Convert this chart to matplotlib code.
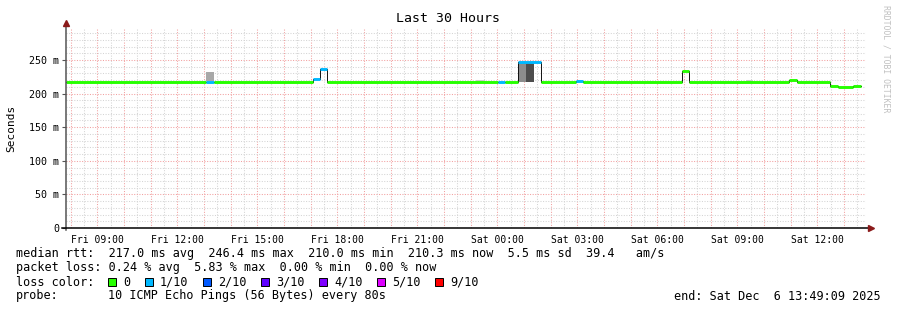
import matplotlib
matplotlib.use("Agg")
import matplotlib.pyplot as plt
from matplotlib.patches import Rectangle

# ---- data (times as "Day HH:MM", rtt in ms) ----
graph_start = "Fri 07:49:09"
graph_end = "Sat 13:49:09"

seg_time = ["Fri 07:49", "Fri 13:04", "Fri 13:22", "Fri 17:05", "Fri 17:20", "Fri 17:36",
            "Sat 00:01", "Sat 00:16", "Sat 00:46", "Sat 01:37", "Sat 02:56", "Sat 03:12",
            "Sat 06:55", "Sat 07:10", "Sat 10:55", "Sat 11:13", "Sat 12:29", "Sat 12:47",
            "Sat 13:19"]
seg_rtt = [217, 217, 217, 221, 237, 217, 217, 217, 246.4, 217, 219, 217,
           233, 217, 220, 217, 211, 210, 210.8]
seg_loss = [0, 1, 0, 1, 1, 0, 1, 0, 1, 0, 1, 0, 0, 0, 0, 0, 0, 0, 0]
data_end = "Sat 13:37"

smoke_start = ["Fri 13:04", "Fri 23:11", "Sat 00:46", "Sat 01:04", "Sat 09:20"]
smoke_end = ["Fri 13:22", "Fri 23:31", "Sat 01:04", "Sat 01:22", "Sat 09:36"]
smoke_lo = [218, 217, 217, 217, 217]
smoke_hi = [232, 219.5, 247, 247, 219.5]
smoke_shade = ["#a8a8a8", "#cccccc", "#8c8c8c", "#4d4d4d", "#cccccc"]

loss_labels = ["0", "1/10", "2/10", "3/10", "4/10", "5/10", "9/10"]
loss_colors = ["#26ff00", "#00b8ff", "#0059ff", "#5e00ff", "#7e00ff", "#dd00ff", "#ff0000"]

xtick_labels = ["Fri 09:00", "Fri 12:00", "Fri 15:00", "Fri 18:00", "Fri 21:00",
                "Sat 00:00", "Sat 03:00", "Sat 06:00", "Sat 09:00", "Sat 12:00"]
yticks = [0, 50, 100, 150, 200, 250]

stats_rtt = "median rtt:  217.0 ms avg  246.4 ms max  210.0 ms min  210.3 ms now  5.5 ms sd  39.4   am/s"
stats_loss = "packet loss: 0.24 % avg  5.83 % max  0.00 % min  0.00 % now"
probe_txt = "10 ICMP Echo Pings (56 Bytes) every 80s"
end_txt = "end: Sat Dec  6 13:49:09 2025"


def hrs(s):
    day, hm = s.split()
    parts = [int(p) for p in hm.split(":")]
    while len(parts) < 3:
        parts.append(0)
    return (24 if day == "Sat" else 0) + parts[0] + parts[1] / 60 + parts[2] / 3600


plt.rcParams["font.family"] = ["DejaVu Sans Mono"]
W, H = 897, 310
fig = plt.figure(figsize=(W / 100, H / 100), dpi=100)
ax = fig.add_axes([66 / W, 82 / H, 800 / W, 200 / H])

x0, x1 = hrs(graph_start), hrs(graph_end)
ax.set_xlim(x0, x1)
ax.set_ylim(0, 297.6)

# grid
dots = (0, (1, 1.5))
h = 8.0
while h < x1:
    major = abs(h - round(h)) < 1e-6
    ax.axvline(h, color="#f2a0a0" if major else "#d4d4d4", lw=0.75, ls=dots, zorder=0)
    h += 0.5
for v in range(10, 300, 10):
    ax.axhline(v, color="#f2a0a0" if v % 50 == 0 else "#d4d4d4", lw=0.75, ls=dots, zorder=0)

# smoke
for s, e, lo, hi, c in zip(smoke_start, smoke_end, smoke_lo, smoke_hi, smoke_shade):
    ax.bar(hrs(s), hi - lo, width=hrs(e) - hrs(s), bottom=lo, align="edge",
           color=c, lw=0, zorder=2)

# median: thin black step line + loss coloured segments
t = [hrs(s) for s in seg_time] + [hrs(data_end)]
ax.step(t, seg_rtt + [seg_rtt[-1]], where="post", color="#111111", lw=0.7, zorder=3)
ax.hlines(seg_rtt, t[:-1], t[1:], colors=[loss_colors[l] for l in seg_loss],
          lw=2.1, zorder=4)

# axes look
for sp in ["top", "right", "left", "bottom"]:
    ax.spines[sp].set_visible(False)
ax.plot([0, 0], [-0.01, 1.02], transform=ax.transAxes, color="#555555", lw=1.1,
        clip_on=False, zorder=5)
ax.plot([-0.005, 1.005], [0, 0], transform=ax.transAxes, color="black", lw=1.1,
        clip_on=False, zorder=5)
ax.plot([0], [1.023], transform=ax.transAxes, marker="^", ms=5, color="#8b1a1a",
        clip_on=False, zorder=6)
ax.plot([1.006], [0], transform=ax.transAxes, marker=">", ms=5, color="#8b1a1a",
        clip_on=False, zorder=6)

ax.set_xticks([hrs(s) for s in xtick_labels])
ax.set_xticklabels(xtick_labels, fontsize=7)
ax.tick_params(axis="x", length=0, pad=5)
ax.set_yticks(yticks)
ax.set_yticklabels(["0"] + [f"{v} m" for v in yticks[1:]], fontsize=7.2)
ax.tick_params(axis="y", length=3, width=0.8, color="#555555", pad=2)

# texts
fig.text(447.5 / W, 1 - 19 / H, "Last 30 Hours", ha="center", va="center", fontsize=9.5)
fig.text(11 / W, 1 - 128 / H, "Seconds", rotation=90, ha="center", va="center", fontsize=8)
fig.text(886 / W, 1 - 5 / H, "RRDTOOL / TOBI OETIKER", rotation=270, ha="center",
         va="top", fontsize=5.9, color="#c0c0c0")

fs = 8.5
fig.text(16 / W, 1 - 254 / H, stats_rtt, va="center", fontsize=fs)
fig.text(16 / W, 1 - 268 / H, stats_loss, va="center", fontsize=fs)
fig.text(16 / W, 1 - 282 / H, "loss color:", va="center", fontsize=fs)
fig.text(16 / W, 1 - 296 / H, "probe:", va="center", fontsize=fs)
fig.text(108 / W, 1 - 296 / H, probe_txt, va="center", fontsize=fs)
fig.text(881 / W, 1 - 296 / H, end_txt, va="center", ha="right", fontsize=fs)

xb = 108
for lab, col in zip(loss_labels, loss_colors):
    fig.patches.append(Rectangle((xb / W, 1 - 286 / H), 8 / W, 8 / H, facecolor=col,
                                 edgecolor="black", lw=0.7, transform=fig.transFigure))
    fig.text((xb + 15) / W, 1 - 282 / H, lab, va="center", fontsize=fs)
    xb += 15 + len(lab) * 7 + 15

fig.savefig("out.png", dpi=100, facecolor="white")
